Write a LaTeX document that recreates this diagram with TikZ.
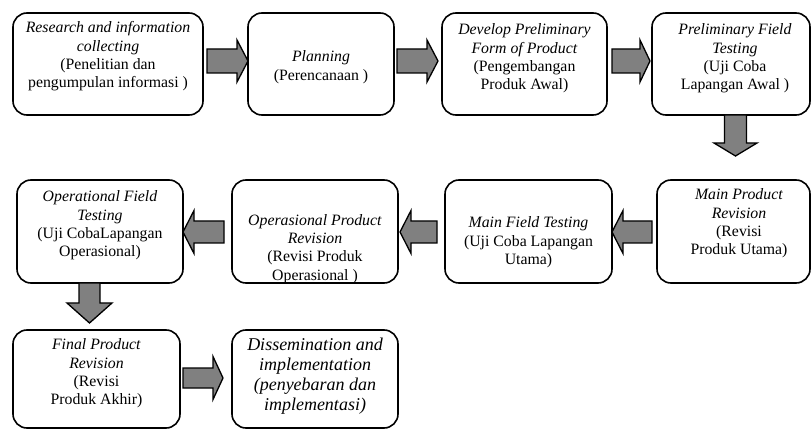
\documentclass[tikz,border=0pt]{standalone}
\usepackage{fontspec}
\setmainfont{Liberation Serif}
\usetikzlibrary{calc}
\definecolor{arrowgray}{RGB}{128,128,128}
\newcommand\fstrut{\rule{0pt}{0.76em}}
% horizontal block arrow: from anchor, to anchor, start offset, tip offset, y shift, shaft half, head half, head length (signed)
\newcommand\hblock[8]{\draw[barrow] let \p1=(#1), \p2=(#2) in
 ({\x1+(#3pt)},{\y1+(#5pt)+(#6pt)}) -- ({\x2+(#4pt)+(#8pt)},{\y1+(#5pt)+(#6pt)}) --
 ({\x2+(#4pt)+(#8pt)},{\y1+(#5pt)+(#7pt)}) -- ({\x2+(#4pt)},{\y1+(#5pt)}) --
 ({\x2+(#4pt)+(#8pt)},{\y1+(#5pt)-(#7pt)}) -- ({\x2+(#4pt)+(#8pt)},{\y1+(#5pt)-(#6pt)}) --
 ({\x1+(#3pt)},{\y1+(#5pt)-(#6pt)}) -- cycle;}
% vertical block arrow: from anchor, to anchor, start offset, tip offset, x shift, shaft half, head half, head length (signed)
\newcommand\vblock[8]{\draw[barrow] let \p1=(#1), \p2=(#2) in
 ({\x1+(#5pt)-(#6pt)},{\y1+(#3pt)}) -- ({\x1+(#5pt)-(#6pt)},{\y2+(#4pt)+(#8pt)}) --
 ({\x1+(#5pt)-(#7pt)},{\y2+(#4pt)+(#8pt)}) -- ({\x1+(#5pt)},{\y2+(#4pt)}) --
 ({\x1+(#5pt)+(#7pt)},{\y2+(#4pt)+(#8pt)}) -- ({\x1+(#5pt)+(#6pt)},{\y2+(#4pt)+(#8pt)}) --
 ({\x1+(#5pt)+(#6pt)},{\y1+(#3pt)}) -- cycle;}
\begin{document}
\begin{tikzpicture}[x=1pt,y=-1pt,
  box/.style={draw, line width=1.6pt, rounded corners=14pt, inner sep=0pt, outer sep=0pt},
  lbl/.style={align=center, inner sep=0pt, anchor=north, font=\fontsize{15.8}{18.3}\selectfont},
  biglbl/.style={align=center, inner sep=0pt, anchor=north, font=\fontsize{18}{20.2}\selectfont\itshape},
  barrow/.style={draw, fill=arrowgray, line width=1.3pt, line join=miter}]
\useasboundingbox (0,0) rectangle (811,430);
% boxes
\node[box, minimum width=190pt, minimum height=102pt] (b1) at (108,64) {};
\node[box, minimum width=146pt, minimum height=102pt] (b2) at (321,64) {};
\node[box, minimum width=165pt, minimum height=102pt] (b3) at (524.5,64) {};
\node[box, minimum width=158pt, minimum height=102pt] (b4) at (731,64) {};
\node[box, minimum width=153pt, minimum height=103pt] (b5) at (733.5,231.5) {};
\node[box, minimum width=167pt, minimum height=103pt] (b6) at (528.5,231.5) {};
\node[box, minimum width=166pt, minimum height=103pt] (b7) at (315,231.5) {};
\node[box, minimum width=166pt, minimum height=103pt] (b8) at (100,231.5) {};
\node[box, minimum width=167pt, minimum height=98pt] (b9) at (96.5,379) {};
\node[box, minimum width=166pt, minimum height=98pt] (b10) at (315,379) {};
% texts
\node[lbl] (t1) at (108,20.5) {\fstrut\textit{Research and information}\\\textit{collecting}\\(Penelitian dan\\pengumpulan informasi )};
\node[lbl] (t2) at (321,49.5) {\fstrut\textit{Planning}\\(Perencanaan )};
\node[lbl] (t3) at (524.5,22.5) {\fstrut\textit{Develop Preliminary}\\\textit{Form of Product}\\(Pengembangan\\Produk Awal)};
\node[lbl] (t4) at (735,22.5) {\fstrut\textit{Preliminary Field}\\\textit{Testing}\\(Uji Coba\\Lapangan Awal )};
\node[lbl] (t5) at (739,187.5) {\fstrut\textit{Main Product}\\\textit{Revision}\\(Revisi\\Produk Utama)};
\node[lbl] (t6) at (528.5,215.5) {\fstrut\textit{Main Field Testing}\\(Uji Coba Lapangan\\Utama)};
\node[lbl] (t7) at (315,213) {\fstrut\textit{Operasional Product}\\\textit{Revision}\\(Revisi Produk\\Operasional )};
\node[lbl] (t8) at (100,189.5) {\fstrut\textit{Operational Field}\\\textit{Testing}\\(Uji CobaLapangan\\Operasional)};
\node[lbl] (t9) at (96.5,337.5) {\fstrut\textit{Final Product}\\\textit{Revision}\\(Revisi\\Produk Akhir)};
\node[biglbl] (t10) at (315,336.5) {\fstrut Dissemination and\\implementation\\(penyebaran dan\\implementasi)};
% arrows
\hblock{b1.east}{b2.west}{4}{0}{3}{12}{21}{-11}
\hblock{b2.east}{b3.west}{3}{-4}{3}{12}{21}{-11}
\hblock{b3.east}{b4.west}{5}{-2}{3}{12}{21}{-10}
\vblock{b4.south}{b5.north}{0}{24}{4.5}{11}{21.5}{13}
\hblock{b5.west}{b6.east}{-5}{0}{-0.5}{11}{21.5}{11}
\hblock{b6.west}{b7.east}{-8}{2}{-0.5}{11}{21.5}{11}
\hblock{b7.west}{b8.east}{-8}{0}{-0.5}{11}{21.5}{11}
\vblock{b8.south}{b9.north}{0}{7}{-10.5}{10.5}{22.5}{20}
\hblock{b9.east}{b10.west}{3}{-9}{1}{10}{21.5}{-10}
\end{tikzpicture}
\end{document}
